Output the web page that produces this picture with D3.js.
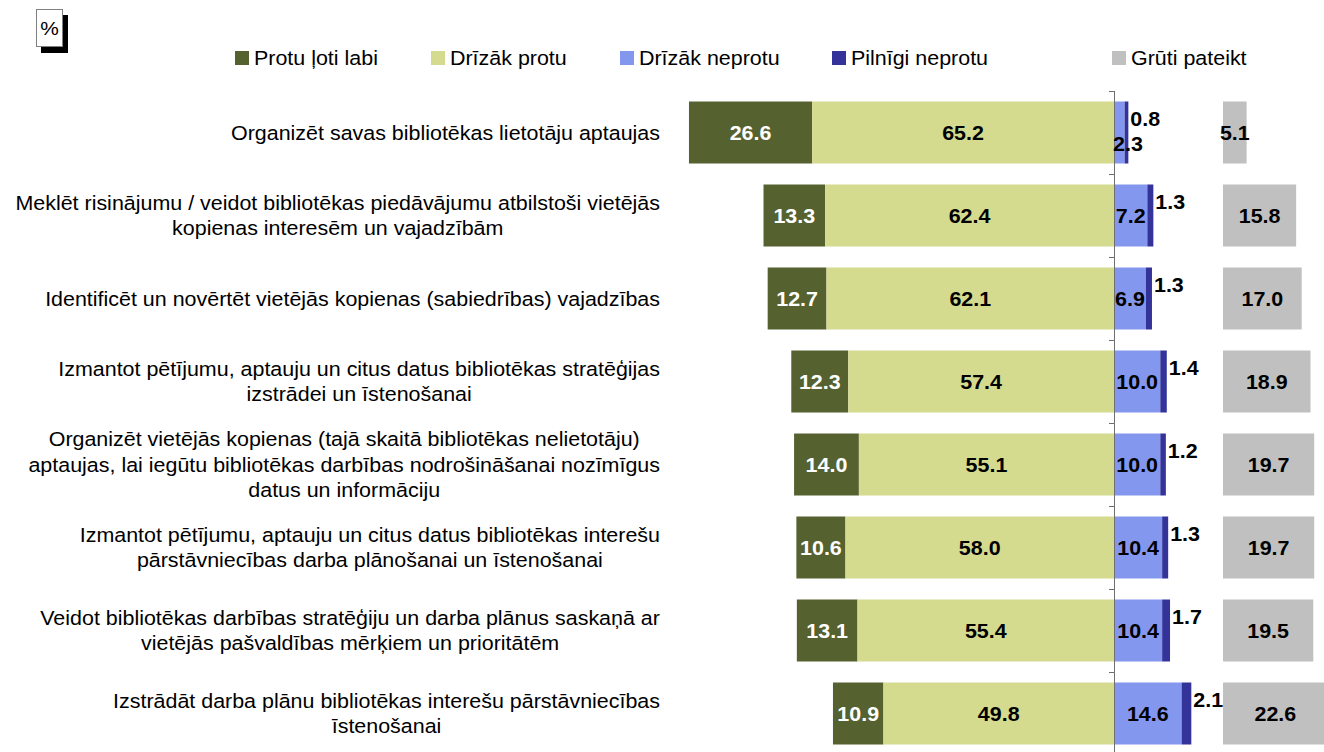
<!DOCTYPE html>
<html>
<head>
<meta charset="utf-8">
<script src="https://cdn.jsdelivr.net/npm/d3@7"></script>
<style>
  body { margin: 0; background: #fff; }
  svg { font-family: "Liberation Sans", Arial, sans-serif; }
</style>
</head>
<body>
<svg id="chart" width="1324" height="752"></svg>
<script>
var categories = [
  "Organizēt savas bibliotēkas lietotāju aptaujas",
  "Meklēt risinājumu / veidot bibliotēkas piedāvājumu atbilstoši vietējās\nkopienas interesēm un vajadzībām",
  "Identificēt un novērtēt vietējās kopienas (sabiedrības) vajadzības",
  "Izmantot pētījumu, aptauju un citus datus bibliotēkas stratēģijas\nizstrādei un īstenošanai",
  "Organizēt vietējās kopienas (tajā skaitā bibliotēkas nelietotāju)\naptaujas, lai iegūtu bibliotēkas darbības nodrošināšanai nozīmīgus\ndatus un informāciju",
  "Izmantot pētījumu, aptauju un citus datus bibliotēkas interešu\npārstāvniecības darba plānošanai un īstenošanai",
  "Veidot bibliotēkas darbības stratēģiju un darba plānus saskaņā ar\nvietējās pašvaldības mērķiem un prioritātēm",
  "Izstrādāt darba plānu bibliotēkas interešu pārstāvniecības\nīstenošanai"
];
var seriesNames = ["Protu ļoti labi", "Drīzāk protu", "Drīzāk neprotu", "Pilnīgi neprotu", "Grūti pateikt"];
var veryWell   = [26.6, 13.3, 12.7, 12.3, 14.0, 10.6, 13.1, 10.9];
var ratherYes  = [65.2, 62.4, 62.1, 57.4, 55.1, 58.0, 55.4, 49.8];
var ratherNo   = [2.3, 7.2, 6.9, 10.0, 10.0, 10.4, 10.4, 14.6];
var notAtAll   = [0.8, 1.3, 1.3, 1.4, 1.2, 1.3, 1.7, 2.1];
var hardToSay  = [5.1, 15.8, 17.0, 18.9, 19.7, 19.7, 19.5, 22.6];
var colors = ["#556230", "#d4db8f", "#8497ee", "#333399", "#c0c0c0"];

var svg = d3.select("#chart");
var sx = 1.1; // the original text is a little wider than plain Arial

function at(px, py) { return "translate(" + px + "," + py + ") scale(" + sx + ",1)"; }

// x: diverging scale, zero line at 1114
var x = d3.scaleLinear().domain([-100, 100]).range([651, 1577]);
var xg = d3.scaleLinear().domain([0, 100]).range([1223, 1686]);
var y = d3.scaleBand().domain(d3.range(categories.length))
  .range([91, 755]).paddingInner(0.253).paddingOuter(0.1265);

var rows = categories.map(function(c, i) {
  var a = veryWell[i], b = ratherYes[i], c2 = ratherNo[i], d = notAtAll[i];
  return [
    {s: 0, i: i, v: a, x0: -(a + b), x1: -b},
    {s: 1, i: i, v: b, x0: -b, x1: 0},
    {s: 2, i: i, v: c2, x0: 0, x1: c2},
    {s: 3, i: i, v: d, x0: c2, x1: c2 + d}
  ];
});
var segs = [].concat.apply([], rows);

// "%" box
svg.append("rect").attr("x", 41).attr("y", 15).attr("width", 27).attr("height", 38).attr("fill", "#000");
svg.append("rect").attr("x", 36.5).attr("y", 9.5).attr("width", 26).attr("height", 37)
  .attr("fill", "#fff").attr("stroke", "#808080");
svg.append("text").attr("transform", at(49.5, 35)).attr("text-anchor", "middle")
  .attr("font-size", 19).text("%");

// legend
var legX = [235, 431, 620, 832, 1112];
var leg = svg.append("g").selectAll("g").data(seriesNames).enter().append("g")
  .attr("transform", function(d, i) { return "translate(" + legX[i] + ",51)"; });
leg.append("rect").attr("width", 14).attr("height", 14).attr("fill", function(d, i) { return colors[i]; });
leg.append("text").attr("transform", at(19, 14)).attr("font-size", 19.5).text(function(d) { return d; });

// bars
svg.append("g").selectAll("rect").data(segs).enter().append("rect")
  .attr("x", function(d) { return x(d.x0); })
  .attr("y", function(d) { return y(d.i); })
  .attr("width", function(d) { return x(d.x1) - x(d.x0); })
  .attr("height", y.bandwidth())
  .attr("fill", function(d) { return colors[d.s]; });

svg.append("g").selectAll("rect").data(hardToSay).enter().append("rect")
  .attr("x", xg(0))
  .attr("y", function(d, i) { return y(i); })
  .attr("width", function(d) { return xg(d) - xg(0); })
  .attr("height", y.bandwidth())
  .attr("fill", colors[4]);

// zero axis with ticks at category boundaries
var axis = svg.append("g").attr("stroke", "#707070");
axis.append("line").attr("x1", x(0) + 0.5).attr("x2", x(0) + 0.5).attr("y1", 91).attr("y2", 755);
axis.selectAll("line.tk").data(d3.range(categories.length + 1)).enter().append("line")
  .attr("class", "tk")
  .attr("x1", x(0) - 5).attr("x2", x(0) + 0.5)
  .attr("y1", function(d) { return 91.5 + d * y.step(); })
  .attr("y2", function(d) { return 91.5 + d * y.step(); });

// value labels
var lab = svg.append("g").attr("font-size", 19.5).attr("font-weight", "bold");
lab.selectAll("text.seg").data(segs).enter().append("text")
  .attr("class", "seg")
  .attr("text-anchor", function(d) { return d.s === 3 || (d.s === 2 && d.v < 5) ? "start" : "middle"; })
  .attr("transform", function(d) {
    var cy = y(d.i) + y.bandwidth() / 2;
    if (d.s === 3) return at(x(d.x1) + 2, cy - 14 + 7);
    if (d.s === 2 && d.v < 5) return at(x(0) - 1, cy + 11 + 7);
    return at((x(d.x0) + x(d.x1)) / 2, cy + 7);
  })
  .attr("fill", function(d) { return d.s === 0 ? "#fff" : "#000"; })
  .text(function(d) { return d.v.toFixed(1); });

lab.selectAll("text.hs").data(hardToSay).enter().append("text")
  .attr("class", "hs")
  .attr("text-anchor", "middle")
  .attr("transform", function(d, i) { return at((xg(0) + xg(d)) / 2, y(i) + y.bandwidth() / 2 + 7); })
  .text(function(d) { return d.toFixed(1); });

// category labels: block right-aligned at 660, lines centred within it
var lineH = 25.5;
var cat = svg.append("g").attr("font-size", 19.5).selectAll("text").data(categories).enter().append("text")
  .attr("text-anchor", "middle")
  .attr("transform", function(c, i) { return at(660, y(i) + y.bandwidth() / 2); });
cat.each(function(c) {
  var t = d3.select(this);
  var lines = c.split("\n");
  lines.forEach(function(l, k) {
    t.append("tspan").attr("x", 0)
      .attr("y", (k - (lines.length - 1) / 2) * lineH + 7)
      .text(l);
  });
  var w = this.getBBox().width;
  t.selectAll("tspan").attr("x", -w / 2);
});
</script>
</body>
</html>
